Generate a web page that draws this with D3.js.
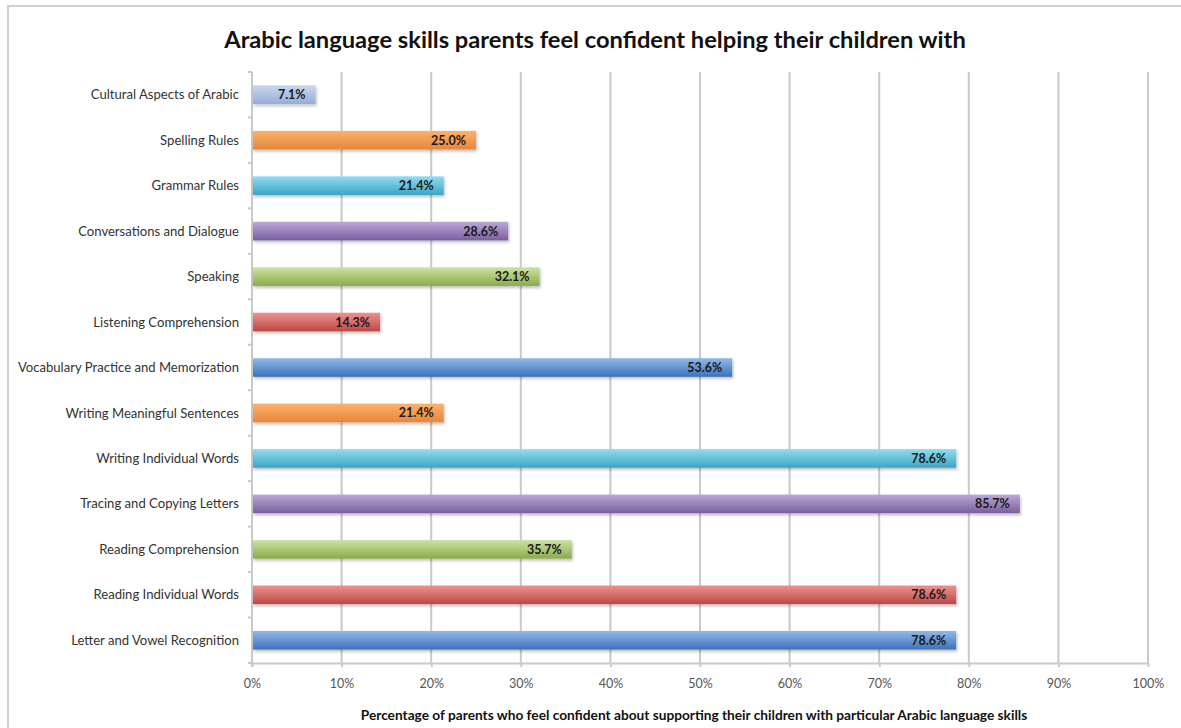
<!DOCTYPE html>
<html>
<head>
<meta charset="utf-8">
<script src="https://cdn.jsdelivr.net/npm/d3@7"></script>
<style>
  html, body { margin: 0; padding: 0; background: #fff; }
  svg { display: block; font-family: "Lato", "Open Sans", sans-serif; }
</style>
</head>
<body>
<svg id="chart" width="1181" height="728"></svg>
<script>
// Skills, listed top to bottom as they appear in the chart
const categories = [
  "Cultural Aspects of Arabic",
  "Spelling Rules",
  "Grammar Rules",
  "Conversations and Dialogue",
  "Speaking",
  "Listening Comprehension",
  "Vocabulary Practice and Memorization",
  "Writing Meaningful Sentences",
  "Writing Individual Words",
  "Tracing and Copying Letters",
  "Reading Comprehension",
  "Reading Individual Words",
  "Letter and Vowel Recognition"
];
// Percent of parents confident with each skill
const values = [7.1, 25.0, 21.4, 28.6, 32.1, 14.3, 53.6, 21.4, 78.6, 85.7, 35.7, 78.6, 78.6];
// Bar palette (light top / dark bottom of each gradient)
const colorTop = ["#c9d7ef", "#fbb26c", "#92dcef", "#baa8d6", "#cde3a0", "#ec9290", "#93b9e8", "#fbb26c", "#92dcef", "#baa8d6", "#cde3a0", "#ec9290", "#93b9e8"];
const colorBottom = ["#93acd8", "#e7863a", "#38a6c4", "#7a5e9e", "#8aab4c", "#bd4845", "#3c72ba", "#e7863a", "#38a6c4", "#7a5e9e", "#8aab4c", "#bd4845", "#3c72ba"];
const xTicks = [0, 10, 20, 30, 40, 50, 60, 70, 80, 90, 100];

const title = "Arabic language skills parents feel confident helping their children with";
const xTitle = "Percentage of parents who feel confident about supporting their children with particular Arabic language skills";

const svg = d3.select("#chart");
const plotLeft = 252, plotRight = 1148, plotTop = 72, plotBottom = 663;

const x = d3.scaleLinear().domain([0, 100]).range([plotLeft, plotRight]);
const y = d3.scaleBand().domain(categories).range([plotTop, plotBottom]).paddingInner(0.59).paddingOuter(0.295);

// Outer frame
svg.append("rect")
  .attr("x", 8).attr("y", 6).attr("width", 1200).attr("height", 760)
  .attr("fill", "none").attr("stroke", "#cfcfcf").attr("stroke-width", 2);

// Gradients and shadow
const defs = svg.append("defs");
categories.forEach((c, i) => {
  const g = defs.append("linearGradient")
    .attr("id", "grad" + i).attr("x1", 0).attr("y1", 0).attr("x2", 0).attr("y2", 1);
  g.append("stop").attr("offset", "0%").attr("stop-color", colorTop[i]);
  g.append("stop").attr("offset", "45%").attr("stop-color", d3.interpolateRgb(colorTop[i], colorBottom[i])(0.45));
  g.append("stop").attr("offset", "100%").attr("stop-color", colorBottom[i]);
});
const f = defs.append("filter").attr("id", "shadow").attr("x", "-5%").attr("y", "-30%").attr("width", "110%").attr("height", "180%");
f.append("feDropShadow").attr("dx", 1).attr("dy", 2).attr("stdDeviation", 1.5)
  .attr("flood-color", "#000").attr("flood-opacity", 0.25);

// Title
svg.append("text")
  .attr("x", 595).attr("y", 48)
  .attr("text-anchor", "middle")
  .attr("font-size", 23.7).attr("font-weight", "bold").attr("fill", "#111")
  .text(title);

// Vertical gridlines
svg.append("g").selectAll("line")
  .data(xTicks.slice(1))
  .join("line")
  .attr("x1", d => x(d)).attr("x2", d => x(d))
  .attr("y1", plotTop).attr("y2", plotBottom)
  .attr("stroke", "#c9c9c9").attr("stroke-width", 2);

// X axis
const xAxis = svg.append("g")
  .attr("transform", `translate(0,${plotBottom})`)
  .call(d3.axisBottom(x).tickValues(xTicks).tickFormat(d => d + "%").tickSize(4).tickSizeOuter(0));
xAxis.select(".domain").attr("stroke", "#c9c9c9").attr("stroke-width", 2);
xAxis.selectAll(".tick line").attr("stroke", "#c9c9c9").attr("stroke-width", 2);
xAxis.selectAll(".tick text")
  .attr("y", 16).attr("font-size", 12.5).attr("fill", "#555")
  .attr("font-family", "Lato, 'Open Sans', sans-serif");

// Y axis line with ticks at category boundaries
svg.append("line")
  .attr("x1", plotLeft).attr("x2", plotLeft).attr("y1", plotTop).attr("y2", plotBottom + 4)
  .attr("stroke", "#c9c9c9").attr("stroke-width", 2);
const step = y.step();
const boundaries = d3.range(categories.length + 1).map(i => plotTop + i * step);
svg.append("g").selectAll("line")
  .data(boundaries)
  .join("line")
  .attr("x1", plotLeft - 4).attr("x2", plotLeft)
  .attr("y1", d => d).attr("y2", d => d)
  .attr("stroke", "#c9c9c9").attr("stroke-width", 2);

// Category labels
svg.append("g").selectAll("text")
  .data(categories)
  .join("text")
  .attr("x", plotLeft - 13)
  .attr("y", d => y(d) + y.bandwidth() / 2)
  .attr("dy", "0.35em")
  .attr("text-anchor", "end")
  .attr("font-size", 13.1).attr("fill", "#333")
  .text(d => d);

// Bars
svg.append("g").selectAll("rect")
  .data(categories)
  .join("rect")
  .attr("x", x(0) + 1)
  .attr("y", d => y(d))
  .attr("width", (d, i) => x(values[i]) - x(0) - 1)
  .attr("height", y.bandwidth())
  .attr("fill", (d, i) => `url(#grad${i})`)
  .attr("filter", "url(#shadow)");

// Value labels inside bar ends
svg.append("g").selectAll("text")
  .data(categories)
  .join("text")
  .attr("x", (d, i) => x(values[i]) - 10)
  .attr("y", d => y(d) + y.bandwidth() / 2)
  .attr("dy", "0.36em")
  .attr("text-anchor", "end")
  .attr("font-size", 12.5).attr("font-weight", "bold").attr("fill", "#1a1a1a")
  .text((d, i) => values[i].toFixed(1) + "%");

// X axis title
svg.append("text")
  .attr("x", 694).attr("y", 720)
  .attr("text-anchor", "middle")
  .attr("font-size", 13.7).attr("font-weight", "bold").attr("fill", "#111")
  .text(xTitle);
</script>
</body>
</html>
